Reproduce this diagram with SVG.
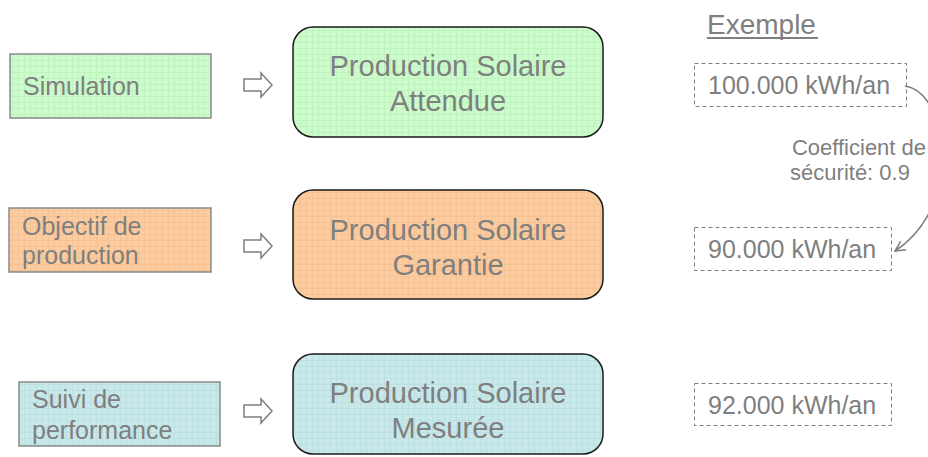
<svg xmlns="http://www.w3.org/2000/svg" width="928" height="457" viewBox="0 0 928 457">
<defs>
<pattern id="pg" width="6" height="6" patternUnits="userSpaceOnUse"><rect width="6" height="6" fill="#ccfccc"/><path d="M0 0.5H6M0.5 0V6" stroke="#c0f2c0" stroke-width="1"/></pattern>
<pattern id="po" width="6" height="6" patternUnits="userSpaceOnUse"><rect width="6" height="6" fill="#fccca0"/><path d="M0 0.5H6M0.5 0V6" stroke="#f5c294" stroke-width="1"/></pattern>
<pattern id="pb" width="6" height="6" patternUnits="userSpaceOnUse"><rect width="6" height="6" fill="#c8e8ea"/><path d="M0 0.5H6M0.5 0V6" stroke="#bde0e3" stroke-width="1"/></pattern>
<marker id="ah" viewBox="0 0 12 12" refX="11" refY="6" markerWidth="12" markerHeight="12" markerUnits="userSpaceOnUse" orient="auto"><path d="M1 1L11 6L1 11" fill="none" stroke="#7f7f7f" stroke-width="1.5"/></marker>
<clipPath id="cp"><rect x="0" y="0" width="928" height="457"/></clipPath>
</defs>
<style>
text{font-family:"Liberation Sans",Arial,sans-serif;fill:#7f7f7f;font-size:25px}
.src{stroke:#8a8a8a;stroke-width:1.5}
.main{stroke:#1a1a1a;stroke-width:1.5}
.mt{font-size:29px;text-anchor:middle}
.ex{fill:none;stroke:#7f7f7f;stroke-width:1;stroke-dasharray:4 3}
.arr{fill:#fff;stroke:#7f7f7f;stroke-width:1.5}
.sm{font-size:22px;text-anchor:middle}
.hd{font-size:28px}
</style>
<g id="simulation"><rect class="src" x="10" y="54" width="201" height="64" fill="url(#pg)"/><text x="23" y="95">Simulation</text></g>
<g id="objectif"><rect class="src" x="9" y="208" width="202" height="64" fill="url(#po)"/><text x="22" y="235">Objectif de</text><text x="22" y="264">production</text></g>
<g id="suivi"><rect class="src" x="19" y="382" width="201" height="64" fill="url(#pb)"/><text x="32" y="408">Suivi de</text><text x="32" y="439">performance</text></g>
<g id="attendue"><rect class="main" x="293" y="27" width="310" height="110" rx="20" fill="url(#pg)"/><text class="mt" x="448" y="76">Production Solaire</text><text class="mt" x="448" y="111">Attendue</text></g>
<g id="garantie"><rect class="main" x="293" y="190" width="310" height="109" rx="20" fill="url(#po)"/><text class="mt" x="448" y="240">Production Solaire</text><text class="mt" x="448" y="275">Garantie</text></g>
<g id="mesuree"><rect class="main" x="293" y="354" width="310" height="100" rx="20" fill="url(#pb)"/><text class="mt" x="448" y="403">Production Solaire</text><text class="mt" x="448" y="438">Mesurée</text></g>
<g id="exemple"><text class="hd" x="707" y="34">Exemple</text><rect x="707" y="37" width="111" height="2" fill="#7f7f7f"/></g>
<g id="ex1"><rect class="ex" x="694.5" y="63.5" width="212" height="43"/><text x="708" y="94">100.000 kWh/an</text></g>
<g id="ex2"><rect class="ex" x="694.5" y="227.5" width="197" height="43"/><text x="708" y="258">90.000 kWh/an</text></g>
<g id="ex3"><rect class="ex" x="694.5" y="383.5" width="197" height="42"/><text x="708" y="414">92.000 kWh/an</text></g>
<g id="coef"><text class="sm" x="859" y="155">Coefficient de</text><text class="sm" x="850" y="180">sécurité: 0.9</text></g>
<g id="connectors">
<polygon class="arr" points="244,79 261,79 261,73 272,85 261,97 261,91 244,91"/>
<polygon class="arr" points="244,240 261,240 261,234 272,246 261,258 261,252 244,252"/>
<polygon class="arr" points="244,405 261,405 261,399 272,411 261,423 261,417 244,417"/>
<path clip-path="url(#cp)" d="M905 86C948 92 965 205 895 251" fill="none" stroke="#7f7f7f" stroke-width="1.5" marker-end="url(#ah)"/>
</g>
</svg>
